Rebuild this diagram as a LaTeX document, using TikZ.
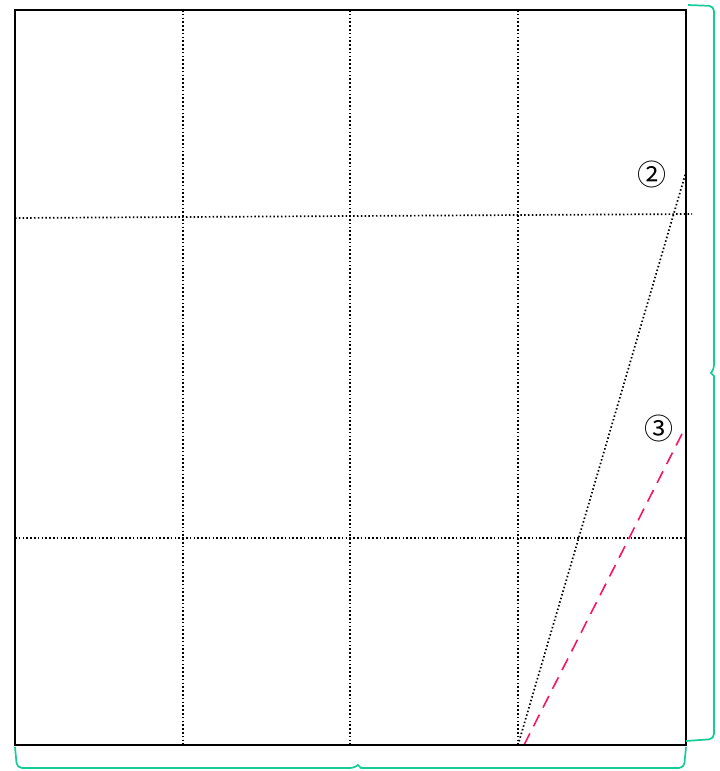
\documentclass[tikz,border=0pt]{standalone}
\usepackage{fontspec}
\newfontfamily\symfont{Noto Sans CJK JP}
\definecolor{teal1}{RGB}{20,205,150}
\definecolor{pinkred}{RGB}{250,20,100}
\begin{document}
\begin{tikzpicture}[x=1pt,y=-1pt,
  frame/.style={draw=black,line width=2pt},
  gridline/.style={draw=black,line width=1.7pt,dash pattern=on 1.5pt off 2.3pt},
  foldred/.style={draw=pinkred,line width=1.6pt,dash pattern=on 13pt off 8pt},
  bracestyle/.style={draw=teal1,line width=1.7pt,rounded corners=5pt},
  lbl/.style={font=\symfont\fontsize{29}{29}\selectfont,inner sep=0pt}]
\useasboundingbox (0,0) rectangle (720,771);
% corners
\coordinate (TL) at (15,10);
\coordinate (BR) at (686,745);
% grid
\coordinate (v1t) at (183,10); \coordinate (v1b) at (183,745);
\coordinate (v2t) at (350,10); \coordinate (v2b) at (350,745);
\coordinate (v3t) at (518,10); \coordinate (v3b) at (518,745);
\coordinate (h1l) at (15,218); \coordinate (h1r) at (692,214);
\coordinate (h2l) at (15,538); \coordinate (h2r) at (686,538);
\draw[gridline] (v1t) -- (v1b);
\draw[gridline] (v2t) -- (v2b);
\draw[gridline] (v3t) -- (v3b);
\draw[gridline] (h1l) -- (h1r);
\draw[gridline] (h2l) -- (h2r);
% fold lines
\coordinate (f2b) at (518,745); \coordinate (f2t) at (686,172);
\coordinate (f3b) at (524,745); \coordinate (f3t) at (686,426);
\draw[gridline] (f2b) -- (f2t);
\draw[foldred] (f3b) -- (f3t);
\draw[frame] (TL) rectangle (BR);
% labels
\node[lbl] (n2) at (652,174) {②};
\node[lbl] (n3) at (659,428) {③};
% braces
\draw[bracestyle] (688,5) -- (714,6) -- (714,370) [sharp corners] -- (711,373) -- (714,376) [rounded corners=5pt] -- (714,739) -- (686,741);
\draw[bracestyle] (15,747) -- (17,768) -- (355,768) [sharp corners] -- (358,765) -- (361,768) [rounded corners=5pt] -- (684,768) -- (686,747);
\end{tikzpicture}
\end{document}
